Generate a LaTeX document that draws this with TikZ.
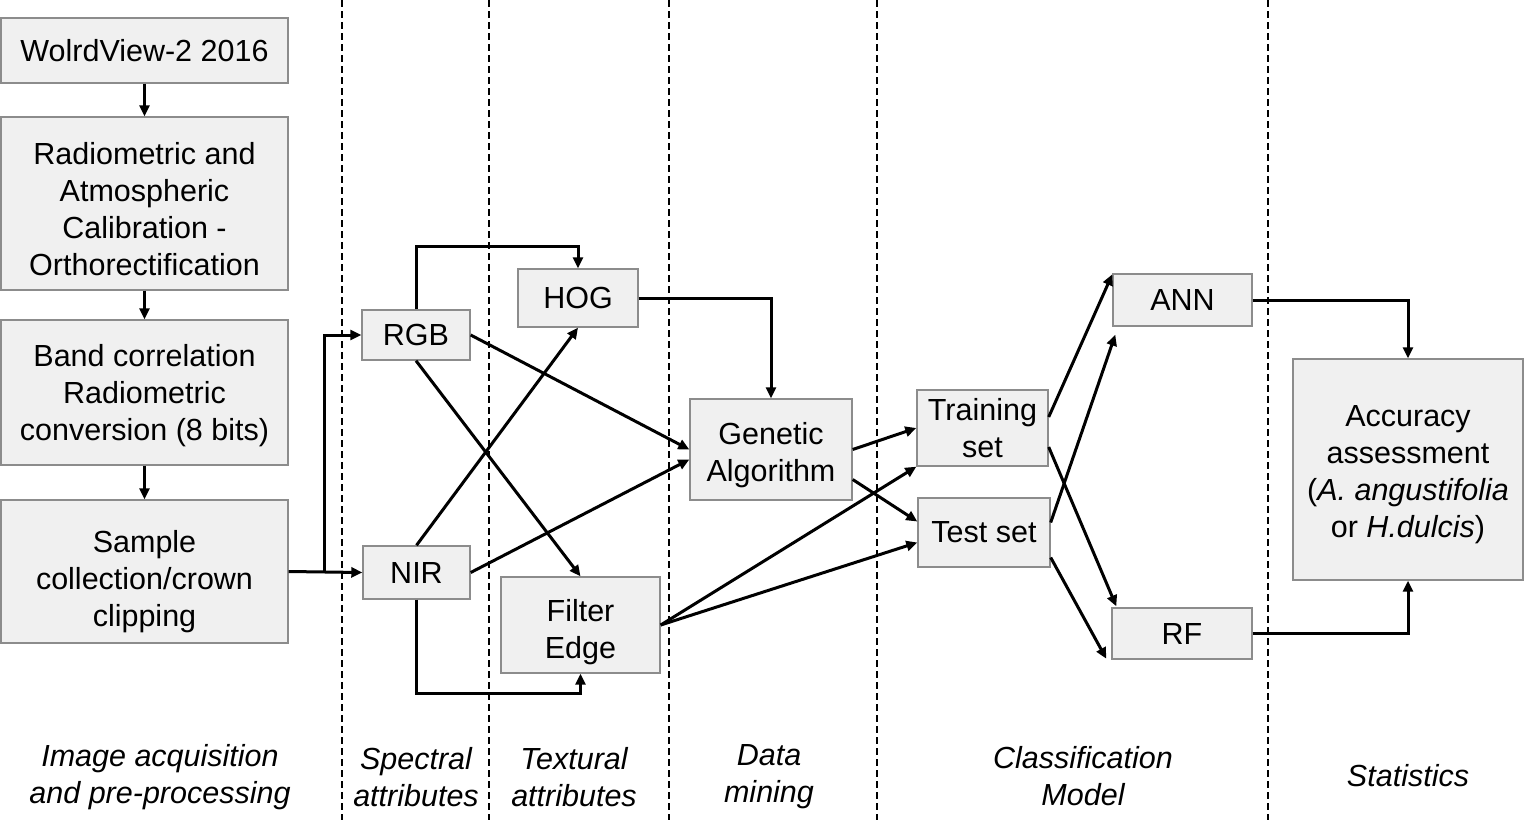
\documentclass[tikz,border=0pt]{standalone}
\usepackage{fontspec}
\setmainfont{Liberation Sans}
\usetikzlibrary{arrows.meta,calc}
\definecolor{boxfill}{HTML}{F0F0F0}
\definecolor{boxline}{HTML}{8C8C8C}
\newcommand\dropline[1]{\rule{0pt}{#1}}
\begin{document}
\begin{tikzpicture}[x=1pt,y=-1pt,
  box/.style={draw=boxline,line width=1.4pt,fill=boxfill,inner sep=0pt,align=center,
    font=\fontsize{30.5}{37}\selectfont},
  arr/.style={line width=3pt,-{Triangle[length=11pt,width=10pt]}},
  sep/.style={line width=1.6pt,dash pattern=on 7pt off 4pt},
  lab/.style={align=center,font=\fontsize{30.5}{37}\selectfont\itshape}]
\useasboundingbox (0,0) rectangle (1524,820);
% separators
\foreach \x in {342,489,669,877,1268} \draw[sep] (\x,0) -- (\x,820);
% boxes
\node[box,minimum width=287pt,minimum height=65pt] (wv) at (144.5,50.5) {WolrdView-2 2016};
\node[box,minimum width=287pt,minimum height=173pt] (rad) at (144.5,203.5) {\dropline{34pt}Radiometric and\\Atmospheric\\Calibration -\\Orthorectification};
\node[box,minimum width=287pt,minimum height=145pt] (band) at (144.5,392.5) {\dropline{28.5pt}Band correlation\\Radiometric\\conversion (8 bits)};
\node[box,minimum width=287pt,minimum height=143pt] (samp) at (144.5,571.5) {\dropline{42pt}Sample\\collection/crown\\clipping};
\node[box,minimum width=108pt,minimum height=50pt] (rgb) at (416,335) {RGB};
\node[box,minimum width=120pt,minimum height=58pt] (hog) at (578,298) {HOG};
\node[box,minimum width=107pt,minimum height=53pt] (nir) at (416.5,572.5) {NIR};
\node[box,minimum width=159pt,minimum height=96pt] (fe) at (580.5,625) {\dropline{36pt}Filter\\Edge};
\node[box,minimum width=162pt,minimum height=101pt] (ga) at (771,449.5) {\dropline{34pt}Genetic\\Algorithm};
\node[box,minimum width=131pt,minimum height=76pt] (tr) at (982.5,428) {Training\\set};
\node[box,minimum width=132pt,minimum height=69pt] (ts) at (984,532.5) {Test set};
\node[box,minimum width=139pt,minimum height=52pt] (ann) at (1182.5,300) {ANN};
\node[box,minimum width=140pt,minimum height=51pt] (rf) at (1182,633.5) {RF};
\node[box,minimum width=230pt,minimum height=221pt] (acc) at (1408,469.5) {\dropline{30.5pt}Accuracy\\assessment\\(\textit{A. angustifolia}\\or \textit{H.dulcis})};
% connectors
\draw[arr] (wv.south) -- (rad.north);
\draw[arr] (rad.south) -- (band.north);
\draw[arr] (band.south) -- (samp.north);
\coordinate (sp) at ($(samp.east)+(36,0)$);
\draw[arr] (samp.east) -- (nir.west);
\draw[arr] (sp) |- (rgb.west);
\draw[arr] (rgb.north) -- ++(0,-63) -| (hog.north);
\draw[arr] (rgb.east) -- (ga.west);
\draw[arr] (rgb.south) -- (fe.north);
\draw[arr] (nir.north) -- (hog.south);
\draw[arr] (nir.east) -- ($(ga.west)+(0,10)$);
\draw[arr] (nir.south) -- ++(0,94) -| (fe.south);
\draw[arr] (hog.east) -| (ga.north);
\draw[arr] (ga.east) -- (tr.west);
\draw[arr] ($(ga.east)+(0,30)$) -- ($(ts.west)+(0,-11)$);
\draw[arr] (fe.east) -- (tr.south west);
\draw[arr] (fe.east) -- ($(ts.west)+(0,10)$);
\draw[arr] ($(tr.east)+(0,-11)$) -- ($(ann.north west)+(0,1)$);
\draw[arr] ($(tr.east)+(0,19)$) -- ($(rf.north west)+(5,-1)$);
\draw[arr] ($(ts.east)+(0,-10)$) -- ($(ann.south west)+(3,8)$);
\draw[arr] ($(ts.east)+(0,25)$) -- ($(rf.south west)+(-5,-1)$);
\draw[arr] (ann.east) -| (acc.north);
\draw[arr] (rf.east) -| (acc.south);
% column labels
\node[lab] (l1) at (160,777) {Image acquisition\\and pre-processing};
\node[lab] (l2) at (416,777) {Spectral\\attributes};
\node[lab] (l3) at (574,777) {Textural\\attributes};
\node[lab] (l4) at (769,777) {Data\\mining};
\node[lab] (l5) at (1083,776) {Classification\\Model};
\node[lab] (l6) at (1408,776) {Statistics};
\end{tikzpicture}
\end{document}
